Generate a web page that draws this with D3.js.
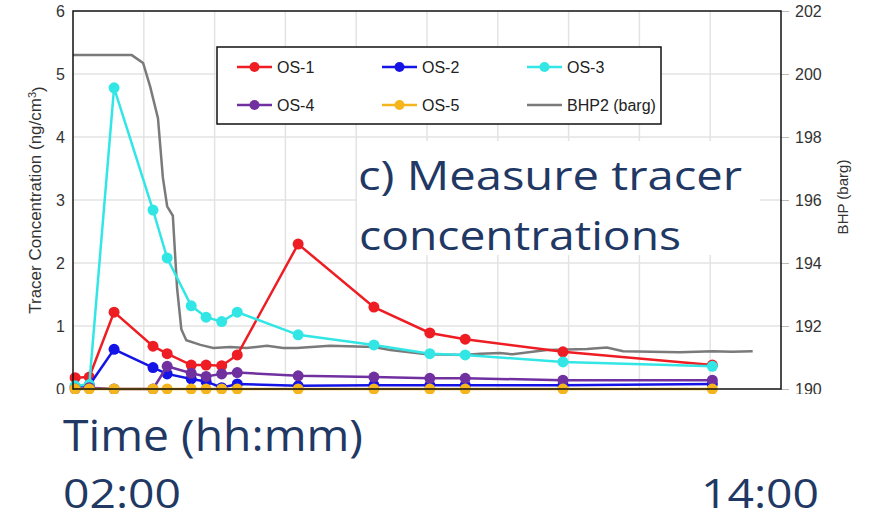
<!DOCTYPE html>
<html>
<head>
<meta charset="utf-8">
<script src="https://cdn.jsdelivr.net/npm/d3@7/dist/d3.min.js"></script>
<style>
  body { margin: 0; background: #fff; }
  svg { display: block; }
</style>
</head>
<body>
<div id="chart"></div>
<script>
// sample times (grid units along the time axis) and tracer readings
var sampleTimes = [0.03, 0.23, 0.58, 1.13, 1.33, 1.67, 1.88, 2.10, 2.32, 3.18, 4.25, 5.04, 5.54, 6.92, 9.03];
var os1 = [0.18, 0.19, 1.22, 0.68, 0.56, 0.38, 0.38, 0.37, 0.54, 2.30, 1.30, 0.89, 0.79, 0.59, 0.38];
var os2 = [0.03, 0.06, 0.63, 0.34, 0.24, 0.16, 0.12, 0.02, 0.08, 0.05, 0.06, 0.06, 0.06, 0.06, 0.08];
var os3 = [0.05, 0.07, 4.78, 2.84, 2.08, 1.32, 1.14, 1.07, 1.22, 0.86, 0.70, 0.56, 0.54, 0.43, 0.36];
var os4 = [0.00, 0.02, 0.00, 0.00, 0.36, 0.25, 0.20, 0.24, 0.26, 0.21, 0.19, 0.17, 0.17, 0.14, 0.14];
var os5 = [0, 0, 0, 0, 0, 0, 0, 0, 0, 0, 0, 0, 0, 0, 0];

// bottom hole pressure trace
var bhpTimes = [0, 0.83, 0.99, 1.09, 1.20, 1.27, 1.33, 1.41, 1.47, 1.53, 1.60, 1.80, 1.98, 2.22, 2.45, 2.74,
                2.97, 3.16, 3.63, 4.25, 4.48, 5.00, 5.51, 5.75, 6.03, 6.21, 6.69, 7.26, 7.54, 7.77, 8.57, 9.04, 9.30, 9.60];
var bhpValues = [200.6, 200.6, 200.35, 199.6, 198.6, 196.7, 195.8, 195.5, 193.2, 191.9, 191.55, 191.4, 191.3, 191.33, 191.3, 191.37,
                 191.3, 191.3, 191.37, 191.33, 191.24, 191.1, 191.08, 191.12, 191.14, 191.1, 191.24, 191.27, 191.32, 191.2, 191.17, 191.2, 191.18, 191.2];

var seriesNames = ["OS-1", "OS-2", "OS-3", "OS-4", "OS-5"];
var seriesValues = [os1, os2, os3, os4, os5];
var seriesColors = ["#ee1d23", "#1414e6", "#33e6e6", "#7030a0", "#f5b51c"];
var bhpName = "BHP2 (barg)";
var bhpColor = "#7a7a7a";

var leftTicks = [0, 1, 2, 3, 4, 5, 6];
var rightTicks = [190, 192, 194, 196, 198, 200, 202];

var W = 876, H = 521;
var plot = {left: 73, right: 781, top: 11, bottom: 389};

var svg = d3.select("#chart").append("svg")
    .attr("width", W)
    .attr("height", H);

var x = d3.scaleLinear().domain([0, 10]).range([plot.left, plot.right]);
var y = d3.scaleLinear().domain([0, 6]).range([plot.bottom, plot.top]);
var y2 = d3.scaleLinear().domain([190, 202]).range([plot.bottom, plot.top]);

// grid
svg.append("g")
    .selectAll("line.vg")
    .data(d3.range(1, 10))
    .enter().append("line")
        .attr("x1", function(d) { return x(d); })
        .attr("x2", function(d) { return x(d); })
        .attr("y1", plot.top)
        .attr("y2", plot.bottom)
        .style("stroke", "#e3e3e3")
        .style("stroke-width", 1.5);

svg.append("g")
    .selectAll("line.hg")
    .data(leftTicks.slice(1, -1))
    .enter().append("line")
        .attr("x1", plot.left)
        .attr("x2", plot.right)
        .attr("y1", function(d) { return y(d); })
        .attr("y2", function(d) { return y(d); })
        .style("stroke", "#e3e3e3")
        .style("stroke-width", 1.5);

// axes
var axisFont = "'Liberation Sans', Arial, sans-serif";
var leftAxis = svg.append("g")
    .attr("transform", "translate(" + plot.left + ",0)")
    .call(d3.axisLeft(y).tickValues(leftTicks).tickFormat(d3.format("d")).tickSize(0).tickPadding(8));
leftAxis.select(".domain").remove();
leftAxis.selectAll("text")
    .style("font-family", axisFont)
    .style("font-size", "16px")
    .style("fill", "#333");

var rightAxis = svg.append("g")
    .attr("transform", "translate(" + plot.right + ",0)")
    .call(d3.axisRight(y2).tickValues(rightTicks).tickSize(8).tickPadding(6));
rightAxis.select(".domain").remove();
rightAxis.selectAll("line").style("stroke", "#bbb");
rightAxis.selectAll("text")
    .style("font-family", axisFont)
    .style("font-size", "16px")
    .style("fill", "#333");

// axis titles
var yTitle = svg.append("text")
    .attr("transform", "translate(41,200) rotate(-90)")
    .style("text-anchor", "middle")
    .style("font-family", axisFont)
    .style("font-size", "17px")
    .style("fill", "#333")
    .text("Tracer Concentration (ng/cm");
yTitle.append("tspan")
    .attr("dy", "-0.45em")
    .style("font-size", "11px")
    .text("3");
yTitle.append("tspan")
    .attr("dy", "0.45em")
    .text(")");

svg.append("text")
    .attr("transform", "translate(848,197) rotate(-90)")
    .style("text-anchor", "middle")
    .style("font-family", axisFont)
    .style("font-size", "15px")
    .style("fill", "#333")
    .text("BHP (barg)");

// BHP trace
var bhpLine = d3.line()
    .x(function(d, i) { return x(bhpTimes[i]); })
    .y(function(d) { return y2(d); });

svg.append("path")
    .datum(bhpValues)
    .attr("d", bhpLine)
    .style("fill", "none")
    .style("stroke", bhpColor)
    .style("stroke-width", 2.5);

// tracer series
var line = d3.line()
    .x(function(d, i) { return x(sampleTimes[i]); })
    .y(function(d) { return y(d); });

seriesValues.forEach(function(vals, k) {
    var g = svg.append("g");
    g.append("path")
        .datum(vals)
        .attr("d", line)
        .style("fill", "none")
        .style("stroke", seriesColors[k])
        .style("stroke-width", 2.5);
    g.selectAll("circle")
        .data(vals)
        .enter().append("circle")
            .attr("cx", function(d, i) { return x(sampleTimes[i]); })
            .attr("cy", function(d) { return y(d); })
            .attr("r", 5.5)
            .style("fill", seriesColors[k]);
});

// plot border
svg.append("rect")
    .attr("x", plot.left)
    .attr("y", plot.top)
    .attr("width", plot.right - plot.left)
    .attr("height", plot.bottom - plot.top)
    .style("fill", "none")
    .style("stroke", "#111")
    .style("stroke-width", 1.5);

// legend
var legendItems = seriesNames.map(function(n, i) { return {name: n, color: seriesColors[i], marker: true}; });
legendItems.push({name: bhpName, color: bhpColor, marker: false});

var legend = svg.append("g");
legend.append("rect")
    .attr("x", 217)
    .attr("y", 47)
    .attr("width", 444)
    .attr("height", 77)
    .style("fill", "#fff")
    .style("stroke", "#111")
    .style("stroke-width", 1.5);

var colX = [237, 382, 527];
var rowY = [67, 105];
var li = legend.selectAll(".legend")
    .data(legendItems)
    .enter().append("g")
        .attr("class", "legend")
        .attr("transform", function(d, i) {
            return "translate(" + colX[i % 3] + "," + rowY[Math.floor(i / 3)] + ")";
        });
li.append("line")
    .attr("x1", 0).attr("x2", 35)
    .attr("y1", 0).attr("y2", 0)
    .style("stroke", function(d) { return d.color; })
    .style("stroke-width", 2.5);
li.filter(function(d) { return d.marker; })
    .append("circle")
        .attr("cx", 17.5)
        .attr("cy", 0)
        .attr("r", 5)
        .style("fill", function(d) { return d.color; });
li.append("text")
    .attr("x", 40)
    .attr("dy", ".35em")
    .style("font-family", axisFont)
    .style("font-size", "16px")
    .style("fill", "#222")
    .text(function(d) { return d.name; });

// slide annotations
var slideFont = "'Open Sans', 'Noto Sans', sans-serif";
var navy = "#1f3864";

svg.append("rect")
    .attr("x", 357).attr("y", 141)
    .attr("width", 403).attr("height", 114)
    .style("fill", "#fff");
svg.append("rect")
    .attr("x", 0).attr("y", 394)
    .attr("width", W).attr("height", H - 394)
    .style("fill", "#fff");

function slideText(txt, xPos, yPos, targetWidth, size) {
    return svg.append("text")
        .attr("x", xPos)
        .attr("y", yPos)
        .attr("textLength", targetWidth)
        .attr("lengthAdjust", "spacingAndGlyphs")
        .style("font-family", slideFont)
        .style("font-size", size + "px")
        .style("fill", navy)
        .text(txt);
}

slideText("c) Measure tracer", 358, 190, 384, 40);
slideText("concentrations", 359, 250, 322, 40);
slideText("Time (hh:mm)", 63, 451, 300, 43);
slideText("02:00", 63, 508, 118, 41);
slideText("14:00", 701, 508, 118, 41);
</script>
</body>
</html>
